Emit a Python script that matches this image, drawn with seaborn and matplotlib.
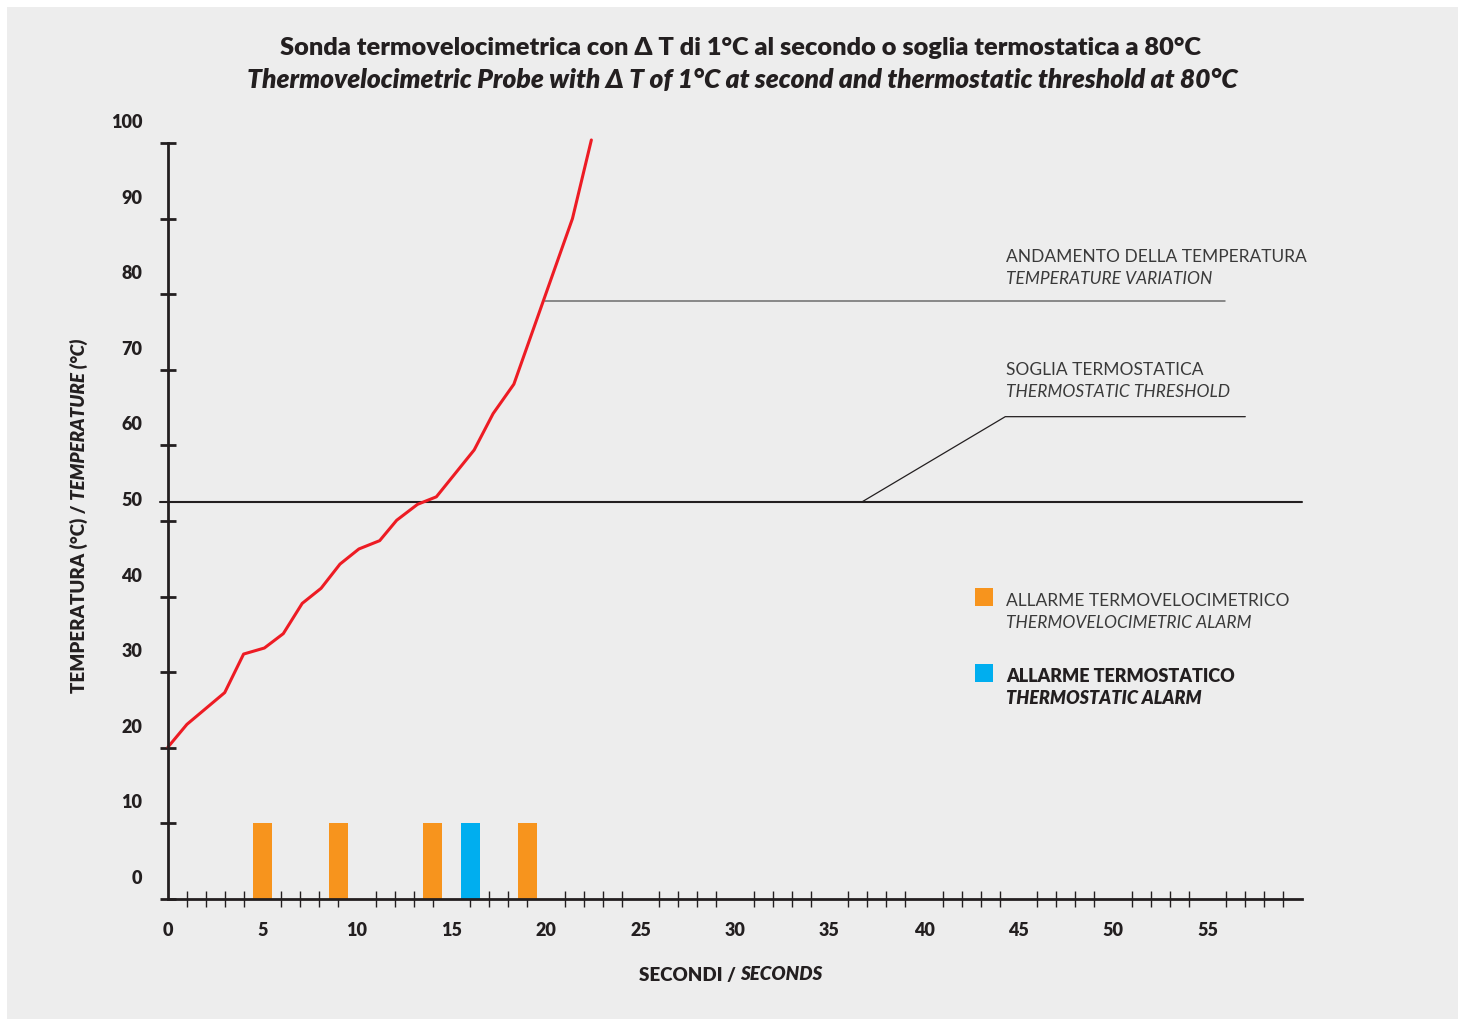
import numpy as np
import pandas as pd
import matplotlib.pyplot as plt
import matplotlib.transforms as mtransforms
from matplotlib.patches import Rectangle
from matplotlib.ticker import MultipleLocator
import seaborn as sns

# temperature curve (seconds, degrees on the drawn scale)
seconds = [0, 1, 3, 4, 5.1, 6.1, 7.1, 8.1, 9.1, 10.1, 11.2, 12.1, 13.2, 14.2, 16.2, 17.2, 18.3, 21.4, 22.4]
temperature = [20.1, 23.1, 27.3, 32.4, 33.2, 35.1, 39.1, 41.1, 44.3, 46.3, 47.4, 50.1, 52.2, 53.2, 59.4, 64.2, 68.1, 90.0, 100.4]

# alarms
alarm_seconds = [5, 9, 14, 16, 19]
alarm_height = [10, 10, 10, 10, 10]
alarm_type = ['velo', 'velo', 'velo', 'stat', 'velo']

threshold = 52.5
y_ticks = list(range(0, 101, 10))
x_ticks = list(range(0, 56, 5))

BG = '#ededed'
DARK = '#231f20'
ORANGE = '#f7941d'
BLUE = '#00aeef'
RED = '#ed1c24'

sns.set_style('white')
plt.rcParams['font.family'] = ['Lato', 'DejaVu Sans']

W, H = 1465, 1019
fig = plt.figure(figsize=(W / 100, H / 100), dpi=100, facecolor='white')
fig.patches.append(Rectangle((7 / W, 0), (1458 - 7) / W, (H - 7) / H,
                             transform=fig.transFigure, facecolor=BG, edgecolor='none', zorder=-10))

ax = fig.add_axes([168 / W, (H - 899) / H, (1302 - 168) / W, (899 - 143) / H])
ax.set_facecolor('none')

curve = pd.DataFrame({'s': seconds, 't': temperature})
sns.lineplot(data=curve, x='s', y='t', color=RED, linewidth=2.2, ax=ax, clip_on=False, zorder=4)

alarms = pd.DataFrame({'s': alarm_seconds, 'h': alarm_height, 'kind': alarm_type})
sns.barplot(data=alarms, x='s', y='h', hue='kind', palette={'velo': ORANGE, 'stat': BLUE},
            native_scale=True, width=0.5, dodge=False, saturation=1, legend=False, ax=ax,
            linewidth=0, edgecolor='none', zorder=2)

# threshold line
ax.plot([-0.42, 60], [threshold, threshold], color=DARK, linewidth=1.5, clip_on=False, zorder=3)

# leader lines
ax.plot([19.95, 55.9], [79.1, 79.1], color='#6d6d6d', linewidth=1.1, zorder=1)
ax.plot([36.7, 44.3, 57.0], [threshold, 63.8, 63.8], color=DARK, linewidth=0.9, zorder=1)

ax.set_xlim(0, 60)
ax.set_ylim(0, 100)
for side in ['top', 'right']:
    ax.spines[side].set_visible(False)
for side in ['left', 'bottom']:
    ax.spines[side].set_color(DARK)
    ax.spines[side].set_linewidth(2.0)
    ax.spines[side].set_zorder(5)

ax.set_xticks(list(range(0, 61, 5)))
ax.xaxis.set_minor_locator(MultipleLocator(1))
ax.set_xticklabels([str(v) for v in x_ticks] + [''])
ax.set_yticks(y_ticks)
ax.set_yticklabels([str(v) for v in y_ticks])

ax.tick_params(axis='x', which='major', direction='inout', length=11, width=2.0, color=DARK,
               labelsize=13, labelcolor=DARK, pad=11)
ax.tick_params(axis='x', which='minor', direction='inout', length=11, width=1.0, color=DARK, bottom=True)
ax.tick_params(axis='y', which='major', direction='inout', length=11, width=2.0, color=DARK,
               labelsize=13, labelcolor=DARK, pad=13, left=True)
for lab in ax.get_xticklabels() + ax.get_yticklabels():
    lab.set_fontweight('heavy')
shift = mtransforms.ScaledTranslation(0, 22 / 100, fig.dpi_scale_trans)
for lab in ax.get_yticklabels():
    lab.set_transform(lab.get_transform() + shift)
ax.set_xlabel('')
ax.set_ylabel('')


def fx(px):
    return px / W


def fy(py):
    return 1 - py / H


# title
fig.text(fx(740), fy(48), 'Sonda termovelocimetrica con Δ T di 1°C al secondo o soglia termostatica a 80°C',
         ha='center', va='center', fontsize=18.3, fontweight='heavy', color=DARK)
fig.text(fx(742), fy(80), 'Thermovelocimetric Probe with Δ T of 1°C at second and thermostatic threshold at 80°C',
         ha='center', va='center', fontsize=19, fontweight='heavy', style='italic', color=DARK)

# axis titles
fig.text(fx(740), fy(975), 'SECONDI / ', ha='right', va='center', fontsize=13.5, fontweight='heavy', color=DARK)
fig.text(fx(740), fy(975), 'SECONDS', ha='left', va='center', fontsize=13.5, fontweight='heavy',
         style='italic', color=DARK)
fig.text(fx(79), fy(500), 'TEMPERATURA (°C) / ', ha='center', va='top', rotation=90, fontsize=13.5,
         fontweight='heavy', color=DARK)
fig.text(fx(79), fy(500), 'TEMPERATURE (°C)', ha='center', va='bottom', rotation=90, fontsize=13.5,
         fontweight='heavy', style='italic', color=DARK)

# annotations
note_kw = dict(ha='left', va='center', fontsize=12.5, color='#3a3a3a', fontweight='normal')
fig.text(fx(1006), fy(257), 'ANDAMENTO DELLA TEMPERATURA', **note_kw)
fig.text(fx(1006), fy(279), 'TEMPERATURE VARIATION', style='italic', **note_kw)
fig.text(fx(1006), fy(370), 'SOGLIA TERMOSTATICA', **note_kw)
fig.text(fx(1006), fy(392), 'THERMOSTATIC THRESHOLD', style='italic', **note_kw)

# legend
fig.patches.append(Rectangle((fx(975), fy(606)), 18 / W, 18 / H, transform=fig.transFigure,
                             facecolor=ORANGE, edgecolor='none'))
fig.patches.append(Rectangle((fx(975), fy(682)), 18 / W, 18 / H, transform=fig.transFigure,
                             facecolor=BLUE, edgecolor='none'))
fig.text(fx(1006), fy(601), 'ALLARME TERMOVELOCIMETRICO', **note_kw)
fig.text(fx(1006), fy(623), 'THERMOVELOCIMETRIC ALARM', style='italic', **note_kw)
bold_kw = dict(ha='left', va='center', fontsize=13, color=DARK, fontweight='heavy')
fig.text(fx(1006), fy(676), 'ALLARME TERMOSTATICO', **bold_kw)
fig.text(fx(1006), fy(699), 'THERMOSTATIC ALARM', style='italic', **bold_kw)

fig.savefig('out.png', dpi=100, facecolor='white')
